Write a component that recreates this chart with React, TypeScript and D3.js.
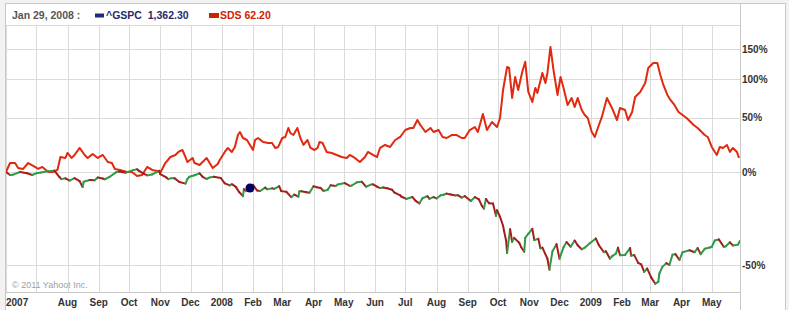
import React from "react";
import * as d3 from "d3";

// ---------- DATA ----------
const headerDate = "Jan 29, 2008 :";
const gspcLabel = "^GSPC";
const gspcValue = "1,362.30";
const sdsLabel = "SDS";
const sdsValue = "62.20";
const dotDate = "2008-01-29";

const sdsDates = [
  "2007-06-01","2007-06-05","2007-06-10","2007-06-13","2007-06-18","2007-06-23","2007-06-28","2007-07-03","2007-07-07","2007-07-13",
  "2007-07-18","2007-07-22","2007-07-25","2007-07-30","2007-08-01","2007-08-05","2007-08-08","2007-08-13","2007-08-18","2007-08-21",
  "2007-08-26","2007-08-31","2007-09-05","2007-09-10","2007-09-14","2007-09-17","2007-09-22","2007-09-29","2007-10-04","2007-10-09",
  "2007-10-14","2007-10-19","2007-10-24","2007-10-29","2007-11-01","2007-11-06","2007-11-11","2007-11-16","2007-11-19","2007-11-23",
  "2007-11-26","2007-11-28","2007-12-03","2007-12-05","2007-12-10","2007-12-15","2007-12-17","2007-12-23","2007-12-28","2007-12-30",
  "2008-01-04","2008-01-07","2008-01-11","2008-01-14","2008-01-17","2008-01-19","2008-01-22","2008-01-26","2008-01-29","2008-02-01",
  "2008-02-03","2008-02-06","2008-02-11","2008-02-16","2008-02-20","2008-02-23","2008-02-26","2008-03-01","2008-03-04","2008-03-07",
  "2008-03-09","2008-03-12","2008-03-16","2008-03-19","2008-03-22","2008-03-26","2008-03-29","2008-04-02","2008-04-05","2008-04-07",
  "2008-04-10","2008-04-14","2008-04-19","2008-04-24","2008-04-29","2008-05-04","2008-05-07","2008-05-12","2008-05-17","2008-05-22",
  "2008-05-25","2008-05-30","2008-06-03","2008-06-06","2008-06-11","2008-06-16","2008-06-21","2008-06-26","2008-07-01","2008-07-06",
  "2008-07-09","2008-07-13","2008-07-16","2008-07-21","2008-07-26","2008-07-29","2008-08-03","2008-08-07","2008-08-11","2008-08-16",
  "2008-08-21","2008-08-26","2008-08-29","2008-09-03","2008-09-08","2008-09-11","2008-09-16","2008-09-20","2008-09-25","2008-09-30",
  "2008-10-03","2008-10-06","2008-10-10","2008-10-12","2008-10-15","2008-10-18","2008-10-21","2008-10-25","2008-10-28","2008-10-31",
  "2008-11-04","2008-11-07","2008-11-09","2008-11-14","2008-11-17","2008-11-19","2008-11-22","2008-11-25","2008-11-29","2008-12-02",
  "2008-12-05","2008-12-09","2008-12-13","2008-12-16","2008-12-19","2008-12-23","2008-12-26","2008-12-29","2009-01-02","2009-01-05",
  "2009-01-08","2009-01-12","2009-01-17","2009-01-22","2009-01-27","2009-01-30","2009-02-04","2009-02-07","2009-02-11","2009-02-14",
  "2009-02-19","2009-02-24","2009-02-27","2009-03-04","2009-03-08","2009-03-11","2009-03-14","2009-03-18","2009-03-21","2009-03-25",
  "2009-03-29","2009-04-02","2009-04-06","2009-04-10","2009-04-13","2009-04-17","2009-04-19","2009-04-24","2009-04-27","2009-05-01",
  "2009-05-06","2009-05-09","2009-05-12","2009-05-16","2009-05-19","2009-05-22","2009-05-26","2009-05-28"
];
const sdsPct = [
  0,6.9,6.9,3.0,2.3,6.9,4.6,2.3,3.8,0,
  0,1.5,11.8,11.0,15.2,11.0,13.5,19.6,13.5,11.0,
  14.4,11.0,13.5,7.7,6.9,2.3,1.5,0,0,-2.9,
  -2.2,3.8,1.5,0.8,-0.7,6.9,11.8,13.5,16.1,17.8,
  11.8,7.7,11.0,6.9,5.3,9.3,11.0,3.0,6.1,9.3,
  16.1,19.6,16.1,20.5,31.7,34.7,28.8,26.9,22.3,17.8,
  26.9,28.8,25.0,24.1,24.1,19.6,20.5,28.8,29.8,38.8,
  33.7,31.7,38.8,28.8,22.3,26.9,19.6,17.8,19.6,25.0,
  24.1,16.1,15.2,13.5,11.8,11.0,13.5,11.0,7.7,11.8,
  16.1,13.5,11.8,19.6,22.3,20.5,26.9,29.8,36.7,38.8,
  38.8,47.3,41.9,34.7,38.8,34.7,36.7,29.8,28.8,31.7,
  31.7,28.8,28.8,36.7,39.8,34.7,54.1,36.7,45.1,39.8,
  49.5,84.2,118.7,117.0,73.6,103.0,84.2,110.7,127.3,81.5,
  68.5,87.0,80.2,109.1,94.1,109.1,153.8,113.9,77.5,103.0,
  87.0,64.8,73.6,62.3,73.6,58.7,52.9,49.5,34.7,29.8,
  38.8,50.7,73.6,61.1,47.3,61.1,58.7,47.3,56.4,74.9,
  81.5,94.1,117.0,125.3,125.3,106.0,91.2,77.5,71.0,64.8,
  56.4,52.9,49.5,45.1,41.9,38.8,36.7,31.7,29.8,20.5,
  13.5,20.5,19.6,22.3,16.1,19.6,16.1,11.0
];

const gspcDates = [
  "2007-06-01","2007-06-05","2007-06-08","2007-06-15","2007-06-22","2007-06-27","2007-07-02","2007-07-06","2007-07-12","2007-07-19",
  "2007-07-24","2007-07-26","2007-07-30","2007-08-03","2007-08-08","2007-08-13","2007-08-16","2007-08-17","2007-08-23","2007-08-28",
  "2007-08-31","2007-09-05","2007-09-07","2007-09-12","2007-09-18","2007-09-21","2007-09-28","2007-10-05","2007-10-09","2007-10-11",
  "2007-10-15","2007-10-19","2007-10-24","2007-10-31","2007-11-01","2007-11-07","2007-11-09","2007-11-12","2007-11-15","2007-11-20",
  "2007-11-26","2007-11-28","2007-11-30","2007-12-05","2007-12-10","2007-12-13","2007-12-17","2007-12-20","2007-12-24","2007-12-31",
  "2008-01-04","2008-01-09","2008-01-11","2008-01-15","2008-01-18","2008-01-22","2008-01-23","2008-01-25","2008-01-29","2008-01-31",
  "2008-02-01","2008-02-05","2008-02-08","2008-02-13","2008-02-15","2008-02-20","2008-02-22","2008-02-27","2008-02-29","2008-03-05",
  "2008-03-10","2008-03-13","2008-03-17","2008-03-18","2008-03-20","2008-03-25","2008-03-28","2008-04-01","2008-04-04","2008-04-08",
  "2008-04-11","2008-04-15","2008-04-18","2008-04-23","2008-04-25","2008-05-02","2008-05-07","2008-05-09","2008-05-14","2008-05-19",
  "2008-05-23","2008-05-28","2008-05-30","2008-06-03","2008-06-06","2008-06-09","2008-06-13","2008-06-18","2008-06-20","2008-06-26",
  "2008-06-27","2008-07-02","2008-07-08","2008-07-11","2008-07-15","2008-07-18","2008-07-23","2008-07-25","2008-07-29","2008-08-01",
  "2008-08-05","2008-08-08","2008-08-11","2008-08-15","2008-08-20","2008-08-22","2008-08-26","2008-08-29","2008-09-04","2008-09-08",
  "2008-09-12","2008-09-15","2008-09-17","2008-09-19","2008-09-22","2008-09-26","2008-09-29","2008-09-30","2008-10-03","2008-10-06",
  "2008-10-07","2008-10-09","2008-10-10","2008-10-13","2008-10-15","2008-10-17","2008-10-22","2008-10-24","2008-10-27","2008-10-28",
  "2008-10-31","2008-11-04","2008-11-06","2008-11-10","2008-11-12","2008-11-14","2008-11-19","2008-11-21","2008-11-24","2008-11-28",
  "2008-12-01","2008-12-05","2008-12-08","2008-12-12","2008-12-16","2008-12-19","2008-12-23","2008-12-26","2008-12-31","2009-01-06",
  "2009-01-09","2009-01-14","2009-01-16","2009-01-20","2009-01-22","2009-01-26","2009-01-28","2009-01-30","2009-02-04","2009-02-09",
  "2009-02-10","2009-02-13","2009-02-17","2009-02-20","2009-02-23","2009-02-26","2009-03-02","2009-03-06","2009-03-09","2009-03-10",
  "2009-03-13","2009-03-17","2009-03-20","2009-03-23","2009-03-26","2009-03-30","2009-04-02","2009-04-09","2009-04-14","2009-04-17",
  "2009-04-20","2009-04-24","2009-04-29","2009-05-01","2009-05-04","2009-05-08","2009-05-13","2009-05-15","2009-05-19","2009-05-22",
  "2009-05-27","2009-05-29"
];
const gspcPct = [
  0,-2.2,-2.0,0,-1.0,-2.2,-0.7,-0.4,0.6,1.0,
  -3.7,-5.2,-4.6,-6.2,-4.5,-6.6,-10.6,-7.0,-5.8,-6.0,
  -4.0,-4.8,-5.3,-3.5,-0.3,0.4,-0.5,1.4,2.0,0.8,
  -1.0,-2.5,-1.8,0.9,-1.6,-4.0,-5.2,-4.5,-4.5,-7.2,
  -8.3,-5.0,-3.5,-2.4,-1.0,-3.5,-5.1,-4.0,-3.5,-4.4,
  -8.1,-9.5,-8.7,-10.5,-13.7,-16.5,-12.0,-13.3,-11.24,-9.8,
  -9.1,-12.9,-13.2,-11.0,-12.1,-11.5,-11.8,-10.1,-13.3,-13.7,
  -17.1,-15.5,-16.8,-13.4,-13.4,-14.0,-14.3,-10.1,-10.7,-11.2,
  -13.2,-12.5,-9.4,-9.9,-8.9,-7.9,-9.9,-9.6,-7.4,-7.1,
  -10.4,-9.0,-8.8,-10.4,-11.3,-10.9,-11.4,-12.4,-14.1,-16.0,
  -16.7,-18.2,-17.0,-19.2,-20.9,-17.8,-16.5,-18.1,-17.1,-17.9,
  -16.0,-15.6,-14.9,-15.4,-16.1,-15.8,-17.4,-16.4,-19.5,-17.1,
  -18.4,-22.3,-23.9,-18.2,-20.8,-21.0,-27.9,-24.8,-28.4,-33.0,
  -35.6,-40.0,-45.3,-34.7,-40.6,-38.8,-41.0,-42.9,-44.8,-38.8,
  -36.9,-34.5,-39.8,-39.2,-43.4,-43.1,-47.6,-51.7,-44.6,-41.6,
  -47.6,-42.9,-40.7,-42.7,-40.0,-42.1,-43.8,-43.1,-41.2,-39.1,
  -42.0,-45.0,-44.6,-47.6,-46.7,-45.5,-43.1,-46.2,-46.1,-43.3,
  -46.4,-46.1,-49.2,-49.8,-52.5,-51.3,-54.5,-56.5,-55.9,-53.1,
  -50.7,-49.3,-50.0,-46.0,-45.8,-48.1,-45.0,-44.2,-45.0,-43.3,
  -45.8,-43.6,-43.0,-42.8,-40.0,-39.5,-42.8,-42.5,-40.8,-42.2,
  -41.8,-40.1
];

const monthTickDates = [
  "2007-06-01","2007-07-01","2007-08-01","2007-09-01","2007-10-01","2007-11-01","2007-12-01",
  "2008-01-01","2008-02-01","2008-03-01","2008-04-01","2008-05-01","2008-06-01","2008-07-01",
  "2008-08-01","2008-09-01","2008-10-01","2008-11-01","2008-12-01",
  "2009-01-01","2009-02-01","2009-03-01","2009-04-01","2009-05-01"
];
const monthTickLabels = [
  "2007","","Aug","Sep","Oct","Nov","Dec",
  "2008","Feb","Mar","Apr","May","Jun","Jul",
  "Aug","Sep","Oct","Nov","Dec",
  "2009","Feb","Mar","Apr","May"
];
const yTickValues = [-50, 0, 50, 100, 150];
const xDomain = ["2007-06-01", "2009-05-29"];
const copyright = "\u00A9 2011 Yahoo! Inc.";

// ---------- CHART ----------
const parse = d3.utcParse("%Y-%m-%d");
const FONT = '"Liberation Sans", Arial, sans-serif';

export default function App() {
  const X0 = 6, X1 = 740, YT = 25, YB = 292;
  const x = d3.scaleUtc().domain(xDomain.map((s) => parse(s)!)).range([X0, X1]);
  const y = d3.scaleLog().domain([0.5, 2.5]).range([265, 49]);
  const yp = (p: number) => y(1 + p / 100);

  const sds = sdsDates.map((d, i) => ({ d: parse(d)!, v: sdsPct[i] }));
  const gspc = gspcDates.map((d, i) => ({ d: parse(d)!, v: gspcPct[i] }));

  const line = d3
    .line<{ d: Date; v: number }>()
    .x((p) => x(p.d))
    .y((p) => yp(p.v));

  const segs = gspc.slice(1).map((p, i) => ({ a: gspc[i], b: p, up: p.v >= gspc[i].v }));
  const dot = gspc.find((p) => +p.d === +parse(dotDate)!)!;

  const grid = "#dadada";
  const border = "#c8c8c8";

  return (
    <svg
      width={789}
      height={310}
      style={{ position: "absolute", left: 0, top: 0, fontFamily: FONT }}
    >
      <rect x={0} y={0} width={789} height={310} fill="#f2f2f2" />
      <rect x={5.5} y={3.5} width={780} height={310} fill="#ffffff" stroke={border} />

      {/* header */}
      <text x={12} y={19.3} fontSize={10.5} fontWeight="bold" fill="#555">{headerDate}</text>
      <rect x={95} y={13.5} width={9} height={4} fill="#1f2a78" />
      <text x={106} y={19.3} fontSize={10.5} fontWeight="bold" fill="#1f2a6e">
        {gspcLabel}{"\u00A0\u00A0"}{gspcValue}
      </text>
      <rect x={209} y={13} width={10} height={5} fill="#cc2200" />
      <text x={220} y={19.3} fontSize={10.5} fontWeight="bold" fill="#cc2200">
        {sdsLabel} {sdsValue}
      </text>

      {/* grid */}
      {monthTickDates.map((t, i) => (
        <line key={"vg" + i} x1={Math.round(x(parse(t)!)) + 0.5} x2={Math.round(x(parse(t)!)) + 0.5}
          y1={YT} y2={YB} stroke={grid} />
      ))}
      {yTickValues.map((v) => (
        <line key={"hg" + v} x1={X0} x2={X1} y1={Math.round(yp(v)) + 0.5} y2={Math.round(yp(v)) + 0.5} stroke={grid} />
      ))}
      <line x1={X0} x2={X1} y1={YT + 0.5} y2={YT + 0.5} stroke={grid} />
      <line x1={X0} x2={X1} y1={YB + 0.5} y2={YB + 0.5} stroke={border} />
      <line x1={X1 + 0.5} x2={X1 + 0.5} y1={3.5} y2={310} stroke={border} />

      <text x={12} y={288} fontSize={9} fill="#a0a0a0">{copyright}</text>

      {/* series */}
      <defs>
        <clipPath id="plot">
          <rect x={X0} y={YT} width={X1 - X0} height={YB - YT} />
        </clipPath>
      </defs>
      <g clipPath="url(#plot)">
        <path d={line(sds) || ""} fill="none" stroke="#e0290f" strokeWidth={2} strokeLinejoin="round" />
        {segs.map((s, i) => (
          <line key={"s" + i} x1={x(s.a.d)} y1={yp(s.a.v)} x2={x(s.b.d)} y2={yp(s.b.v)}
            stroke={s.up ? "#2e9a45" : "#a51d1d"} strokeWidth={2} strokeLinecap="round" />
        ))}
        <circle cx={x(dot.d)} cy={yp(dot.v)} r={4.5} fill="#000066" />
      </g>

      {/* y labels */}
      {yTickValues.map((v) => (
        <text key={"yl" + v} x={742} y={yp(v) + 3.6} fontSize={10} fontWeight="bold" fill="#333">
          {v}%
        </text>
      ))}

      {/* x labels */}
      {monthTickDates.map((t, i) =>
        monthTickLabels[i] ? (
          <text key={"xl" + i} x={i === 0 ? X0 : x(parse(t)!)} y={305.5}
            textAnchor={i === 0 ? "start" : "middle"} fontSize={10} fontWeight="bold" fill="#333">
            {monthTickLabels[i]}
          </text>
        ) : null
      )}
    </svg>
  );
}
